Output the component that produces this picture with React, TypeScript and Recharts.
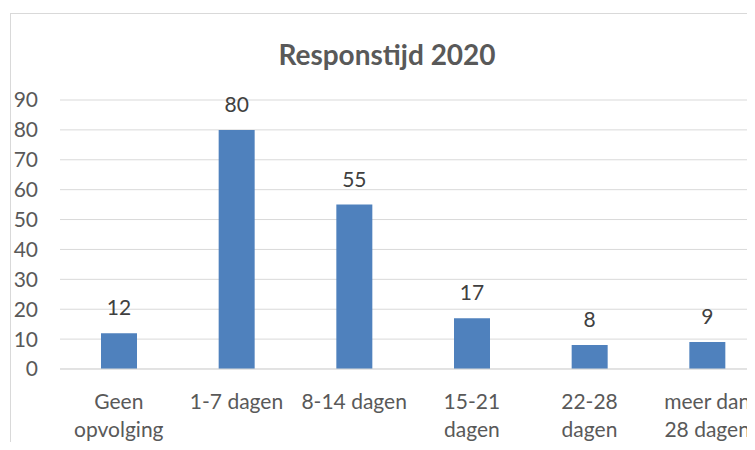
import { Bar, BarChart, CartesianGrid, LabelList, XAxis, YAxis } from "recharts";

const CATEGORIES = [
  "Geen\nopvolging",
  "1-7 dagen",
  "8-14 dagen",
  "15-21\ndagen",
  "22-28\ndagen",
  "meer dan\n28 dagen",
];
const VALUES = [12, 80, 55, 17, 8, 9];
const Y_TICKS = [0, 10, 20, 30, 40, 50, 60, 70, 80, 90];

const BAR = "#4f81bd";
const GRID = "#d9d9d9";
const MUTED = "#595959";
const FONT = "Lato, 'Open Sans', sans-serif";

const data = CATEGORIES.map((name, i) => ({ name, value: VALUES[i] }));

function CategoryTick({ x, y, payload }: any) {
  const lines = String(payload.value).split("\n");
  return (
    <text x={x} y={y} textAnchor="middle" fill={MUTED} fontSize={21} fontFamily={FONT}>
      {lines.map((l, i) => (
        <tspan key={i} x={x} dy={i === 0 ? 32 : 28}>
          {l}
        </tspan>
      ))}
    </text>
  );
}

export default function App() {
  return (
    <div
      style={{
        position: "relative",
        width: 755,
        height: 450,
        margin: -8,
        overflow: "hidden",
        background: "#fff",
      }}
    >
      <div
        style={{
          position: "absolute",
          left: 10,
          top: 13,
          width: 800,
          height: 500,
          border: `1px solid ${GRID}`,
        }}
      >
        <div
          style={{
            position: "absolute",
            left: 0,
            top: 23,
            width: 752,
            textAlign: "center",
            fontFamily: FONT,
            fontWeight: 700,
            fontSize: 28,
            color: MUTED,
          }}
        >
          Responstijd 2020
        </div>
        <BarChart
          width={770}
          height={460}
          data={data}
          margin={{ top: 86, right: 15, left: 0, bottom: 0 }}
        >
          <CartesianGrid vertical={false} stroke={GRID} />
          <XAxis
            dataKey="name"
            axisLine={{ stroke: GRID }}
            tickLine={false}
            height={105}
            interval={0}
            tick={<CategoryTick />}
          />
          <YAxis
            domain={[0, 90]}
            ticks={Y_TICKS}
            interval={0}
            width={49}
            axisLine={false}
            tickLine={false}
            tickMargin={16}
            tick={{ fill: MUTED, fontSize: 21, fontFamily: FONT }}
          />
          <Bar dataKey="value" fill={BAR} barSize={36} isAnimationActive={false}>
            <LabelList
              dataKey="value"
              position="top"
              offset={18}
              fill="#404040"
              fontSize={21}
              fontFamily={FONT}
            />
          </Bar>
        </BarChart>
      </div>
    </div>
  );
}
